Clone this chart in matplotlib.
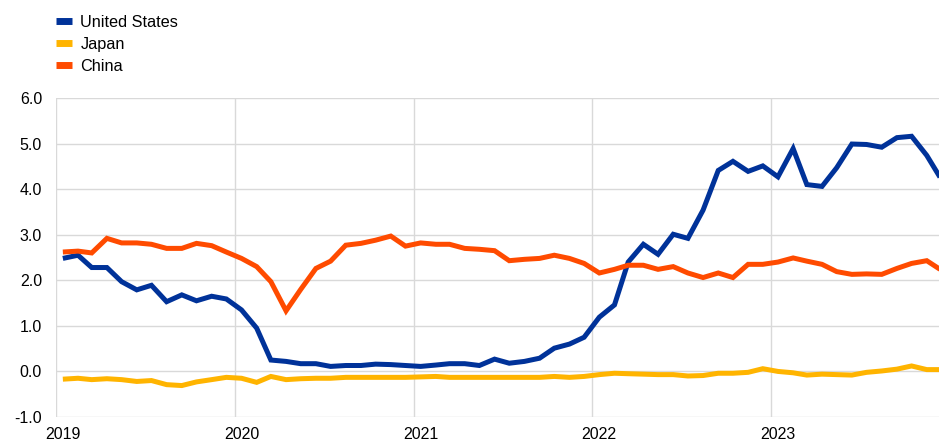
import matplotlib
matplotlib.use("Agg")
import matplotlib.pyplot as plt
import pandas as pd
import numpy as np

plt.rcParams['font.family'] = ['Liberation Sans', 'DejaVu Sans']

dates = pd.date_range("2019-01-01", periods=60, freq="MS") + pd.Timedelta(days=14)

united_states = [2.48, 2.55, 2.28, 2.28, 1.97, 1.79, 1.89, 1.53, 1.68, 1.55, 1.65, 1.59,
                 1.35, 0.95, 0.25, 0.22, 0.17, 0.17, 0.11, 0.13, 0.13, 0.16, 0.15, 0.13,
                 0.11, 0.14, 0.17, 0.17, 0.13, 0.27, 0.18, 0.22, 0.29, 0.51, 0.60, 0.75,
                 1.19, 1.46, 2.40, 2.79, 2.57, 3.01, 2.92, 3.54, 4.41, 4.61, 4.39, 4.51,
                 4.27, 4.89, 4.10, 4.06, 4.47, 4.99, 4.98, 4.92, 5.13, 5.16, 4.74, 4.21]
japan = [-0.17, -0.15, -0.18, -0.16, -0.18, -0.22, -0.20, -0.29, -0.31, -0.23, -0.18, -0.13,
         -0.15, -0.24, -0.11, -0.18, -0.16, -0.15, -0.15, -0.13, -0.13, -0.13, -0.13, -0.13,
         -0.12, -0.11, -0.13, -0.13, -0.13, -0.13, -0.13, -0.13, -0.13, -0.11, -0.13, -0.11,
         -0.07, -0.04, -0.05, -0.06, -0.07, -0.07, -0.10, -0.09, -0.04, -0.04, -0.02, 0.06,
         0.00, -0.03, -0.08, -0.06, -0.07, -0.08, -0.02, 0.01, 0.05, 0.12, 0.04, 0.04]
china = [2.62, 2.64, 2.60, 2.92, 2.82, 2.82, 2.79, 2.70, 2.70, 2.81, 2.76, 2.62,
         2.48, 2.30, 1.97, 1.33, 1.80, 2.26, 2.42, 2.77, 2.81, 2.88, 2.97, 2.75,
         2.82, 2.79, 2.79, 2.70, 2.68, 2.65, 2.43, 2.46, 2.48, 2.55, 2.48, 2.37,
         2.16, 2.24, 2.33, 2.33, 2.24, 2.30, 2.16, 2.06, 2.16, 2.06, 2.35, 2.35,
         2.40, 2.49, 2.42, 2.35, 2.19, 2.13, 2.14, 2.13, 2.26, 2.37, 2.43, 2.22]

series_names = ["United States", "Japan", "China"]
colors = ["#003299", "#FFB400", "#FF4B00"]
year_labels = ["2019", "2020", "2021", "2022", "2023"]

fig = plt.figure(figsize=(9.39, 4.43), dpi=100)
ax = fig.add_axes([56/939, 1 - 417/443, 1 - 56/939, (417 - 98)/443])

for vals, name, c in zip([united_states, japan, china], series_names, colors):
    ax.plot(dates, vals, color=c, lw=3.6, label=name, solid_capstyle='butt',
            solid_joinstyle='miter')

ax.set_ylim(-1.0, 6.0)
ax.set_yticks(np.arange(-1, 7, 1))
ax.set_yticklabels([f"{v:.1f}" for v in np.arange(-1, 7, 1)])
ax.set_xlim(pd.Timestamp("2019-01-01"), pd.Timestamp("2023-12-10"))

year_starts = [pd.Timestamp(f"{y}-01-01") for y in year_labels]
label_pos = [pd.Timestamp(f"{y}-01-15") for y in year_labels]
ax.set_xticks(year_starts)
ax.set_xticklabels([])
ax.set_xticks(label_pos, minor=True)
ax.set_xticklabels(year_labels, minor=True)
ax.tick_params(axis='x', which='both', length=0, pad=7, labelsize=11.5, colors='black')
ax.tick_params(axis='y', length=0, pad=10, labelsize=11.5, colors='black')

ax.grid(True, which='major', color='#d9d9d9', lw=1.0)
ax.set_axisbelow(True)
for s in ax.spines.values():
    s.set_visible(False)

handles, labels = ax.get_legend_handles_labels()
leg = fig.legend(handles, labels, loc='upper left', bbox_to_anchor=(56/939, 1 - 15/443),
                 frameon=False, fontsize=11.7, handlelength=1.0, handletextpad=0.5,
                 labelspacing=0.43, borderpad=0, borderaxespad=0)
for h in leg.legend_handles:
    h.set_linewidth(5)

fig.savefig("out.png", dpi=100)
